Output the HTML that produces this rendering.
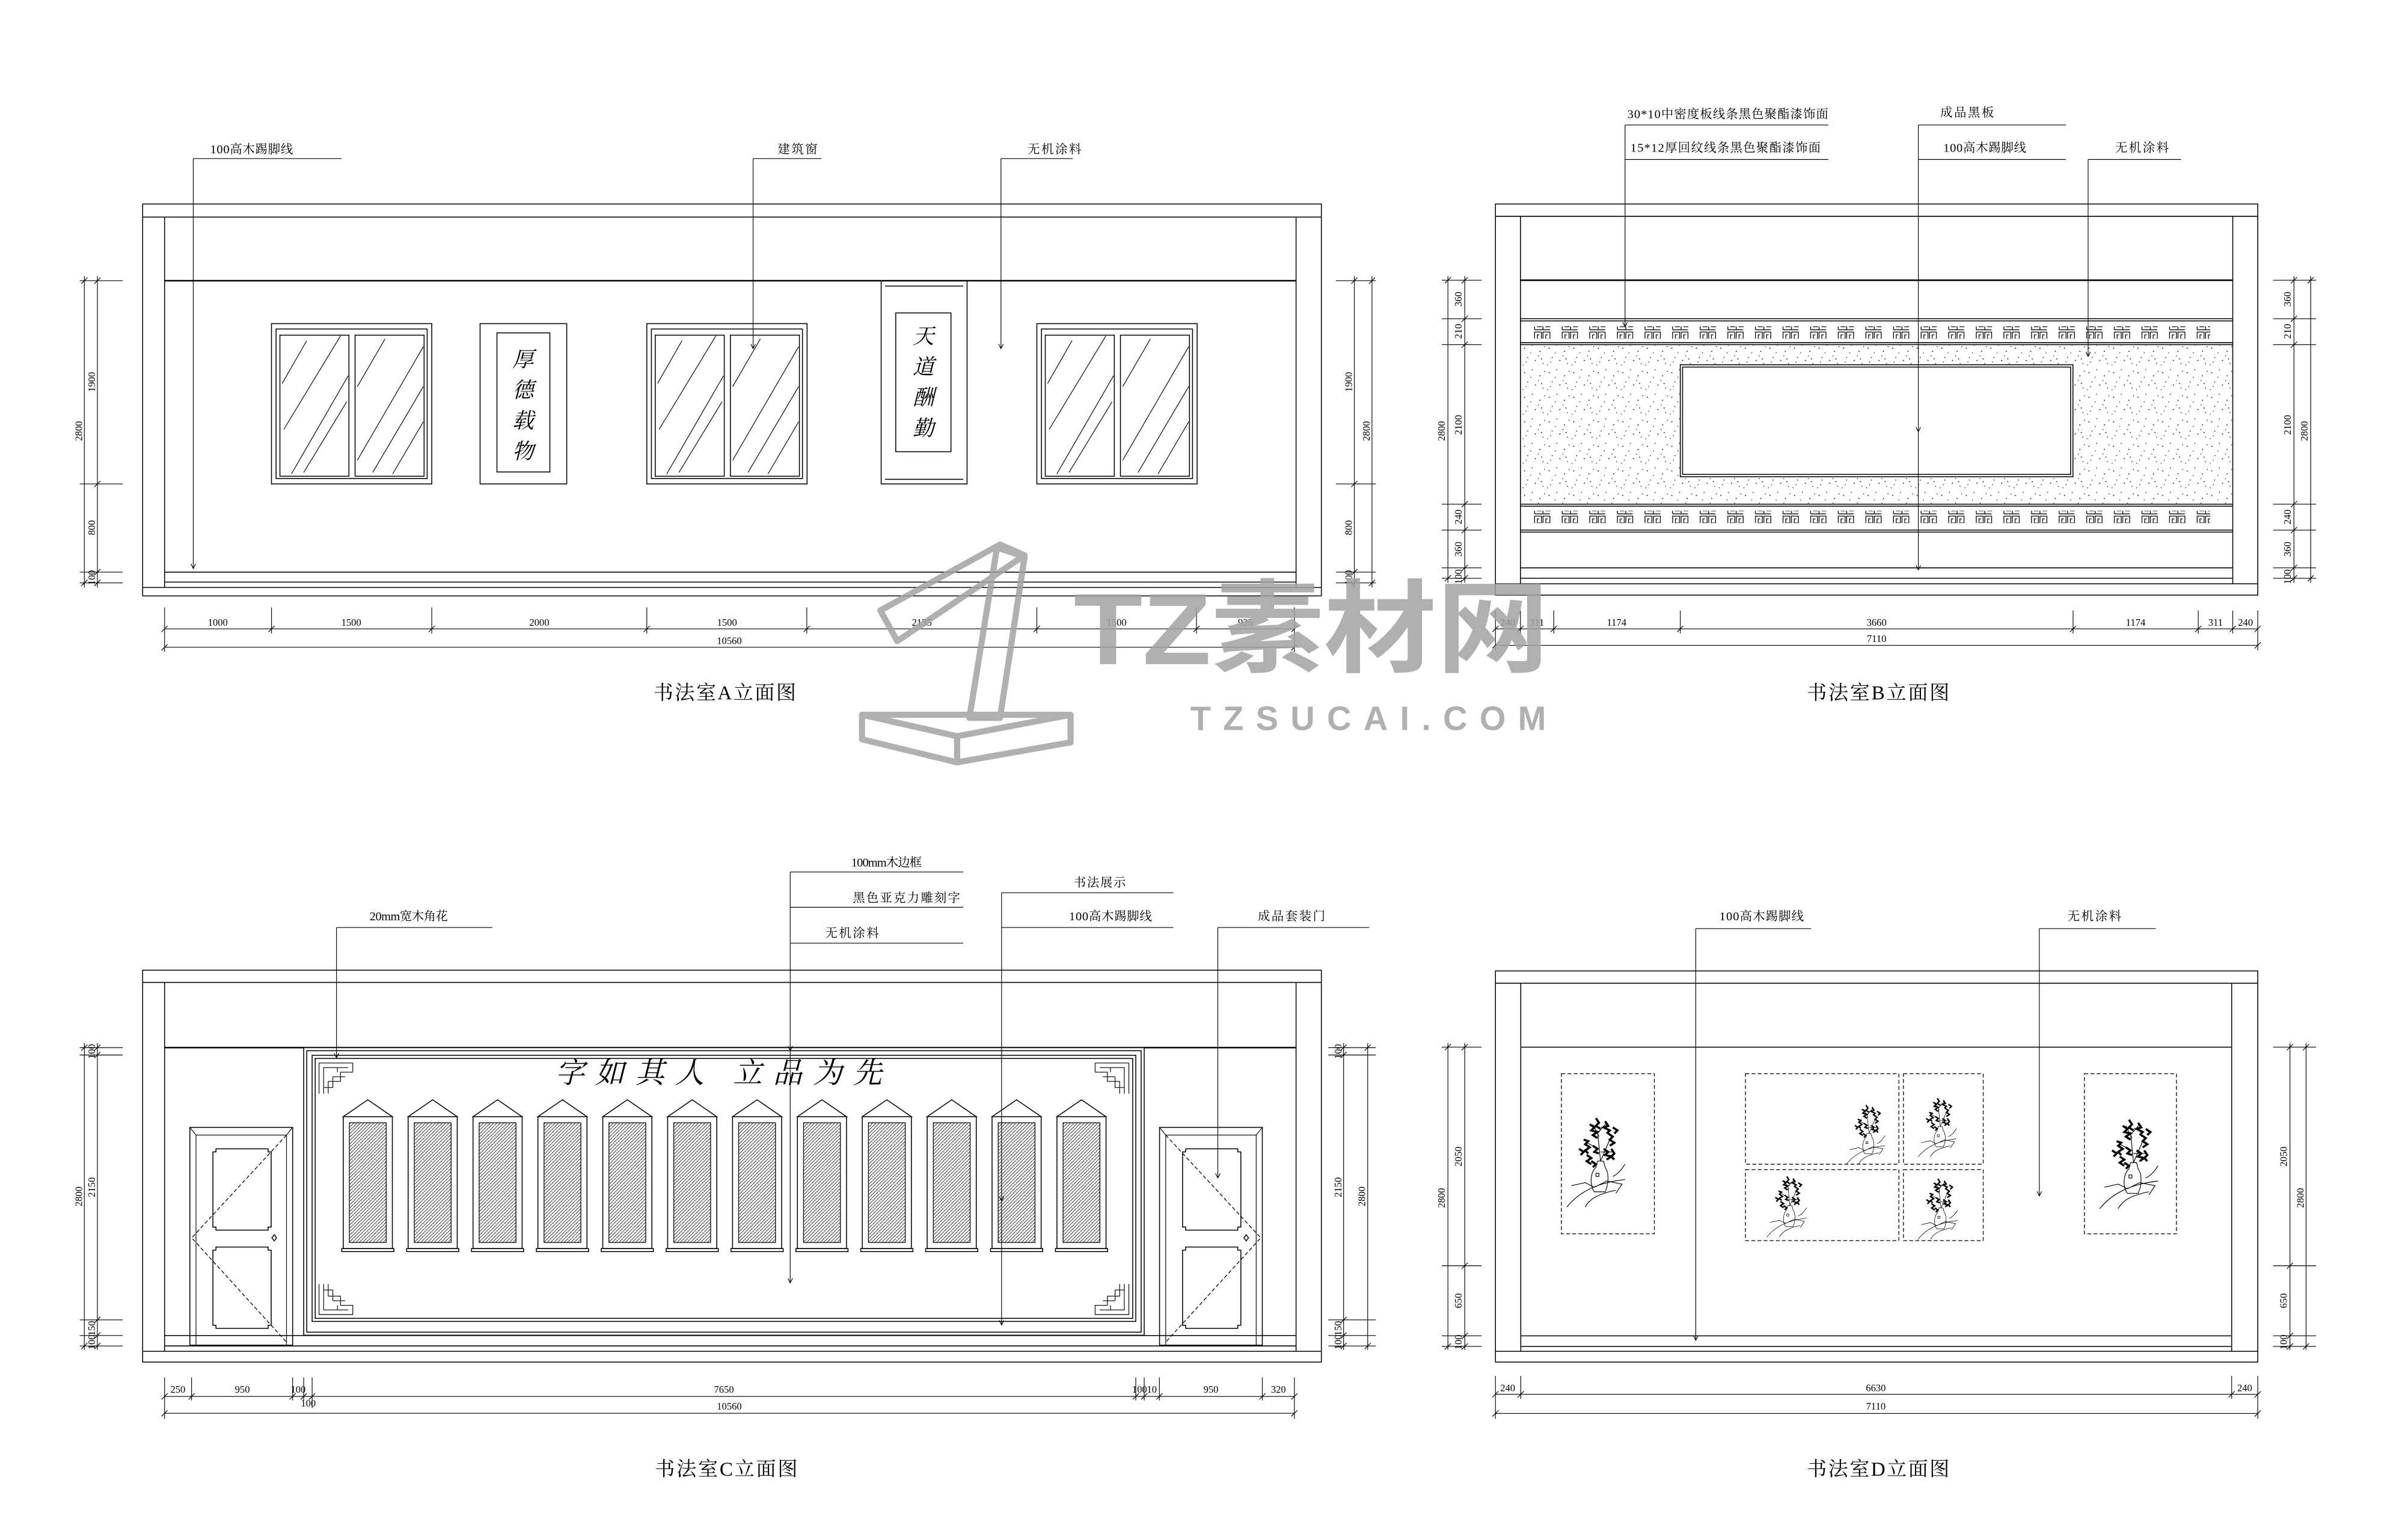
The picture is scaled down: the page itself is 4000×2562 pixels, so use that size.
<!DOCTYPE html>
<html><head><meta charset="utf-8"><style>
html,body{margin:0;padding:0;background:#fff;}
svg{display:block;}
.l{stroke:#000;fill:none;stroke-width:.6}
.k{stroke:#000;fill:none;stroke-width:1}
.d{stroke:#000;fill:none;stroke-width:.45}
.t{font-family:"Liberation Serif","Noto Serif CJK SC",serif;font-size:8px;fill:#000}
.n{font-family:"Liberation Serif","Noto Serif CJK SC",serif;font-size:6.5px;fill:#000;text-anchor:middle}
.ti{font-family:"Liberation Serif","Noto Serif CJK SC",serif;font-size:13px;fill:#000}
.cal{font-family:"Noto Serif CJK SC","Liberation Serif",serif;font-style:italic;fill:#000}
.ds{stroke:#000;fill:none;stroke-width:.5;stroke-dasharray:2.5 1.5}
</style></head><body>
<svg width="4000" height="2562" viewBox="0 0 1568 1004" preserveAspectRatio="none" xmlns="http://www.w3.org/2000/svg">
<defs>
<pattern id="stip" width="16" height="16" patternUnits="userSpaceOnUse">
<g fill="#000"><circle cx="2" cy="3" r=".35"/><circle cx="7" cy="1" r=".3"/><circle cx="12" cy="5" r=".35"/><circle cx="4" cy="9" r=".3"/><circle cx="9" cy="11" r=".35"/><circle cx="14" cy="13" r=".3"/><circle cx="1" cy="14" r=".3"/><circle cx="11" cy="8" r=".3"/><circle cx="6" cy="6" r=".3"/><circle cx="15" cy="2" r=".3"/><circle cx="3" cy="12" r=".3"/><circle cx="13" cy="10" r=".35"/></g>
</pattern>
<pattern id="hat" width="2.2" height="2.2" patternUnits="userSpaceOnUse"><path d="M0,2.2L2.2,0" stroke="#000" stroke-width=".3"/></pattern>
<pattern id="fret" x="1000" y="0" width="18" height="8" patternUnits="userSpaceOnUse">
<path d="M0.5,7V0.5H5V5H2.3V2.3H3.6 M6,7V0.5H10.5V5H7.8V2.3H9.1 M0.5,7H10.5" stroke="#000" stroke-width=".5" fill="none"/>
</pattern>
<symbol id="scr" overflow="visible"><path class="l" d="M0,0L16,-11L32,0Z M1,0H31"/><rect class="l" x="0" y="0" width="32" height="86"/><rect x="4" y="4" width="24" height="78" fill="url(#hat)" stroke="#000" stroke-width=".5"/><path class="l" d="M-1,86H33V88H-1Z"/></symbol>
<symbol id="flw" overflow="visible">
<path class="d" d="M0,58C8,48 20,42 38,40 M12,58C15,52 22,49 32,47 M3,44L12,42L18,45L26,41L36,43L32,49 M30,38C34,36 36,33 38,30"/>
<path class="d" d="M18,48C15,44 15,36 19,32L20,28H24L25,32C28,36 27,44 25,48Z M19,36h2v2h-2z"/>
<path class="d" d="M22,28L20,8 M22,28L28,14 M21,20L13,16 M22,22L31,22 M21,12L17,4 M20,10L26,3"/>
<path stroke="#000" stroke-width="1.4" fill="none" d="M15,4l3,2l-2,2l4,1l-3,2l3,2 M25,2l2,3l-3,1l4,2l-2,2 M27,10l3,2l-2,2l3,2l-3,2 M11,14l3,1l-2,2l3,2l-3,2l2,2 M17,18l3,2l-2,2l3,1 M24,20l3,2l-2,2l4,1l-3,2 M13,24l3,2l-3,2l3,2 M29,20l2,3l-2,2l2,2 M19,0l2,3l-2,2l3,2 M8,20l3,2l-2,2 M30,6l3,2l-2,2 M16,28l3,2l-2,2"/>
</symbol>
<symbol id="cor" overflow="visible"><path class="d" d="M0,20V0H22V6H14V12H6V20 M3,20V3H19 M9,9H17 M9,9V16H3 M12,6V3"/></symbol>
<symbol id="door" overflow="visible">
<rect class="l" x="0" y="0" width="67" height="142"/><path class="d" d="M0,0L4,5H63L67,0 M4,5V142 M63,5V142"/>
<path class="l" d="M15,16h2v-2h34v2h2v49h-2v2h-34v-2h-2z M15,80h2v-2h34v2h2v49h-2v2h-34v-2h-2z"/>
</symbol>
</defs>

<!-- ============ A ============ -->
<g>
<rect class="l" x="93" y="133" width="768.5" height="255.5"/>
<path class="l" d="M93,141.5H861.5 M107.3,141.5V383 M845,141.5V383 M107.3,373H845 M107.3,379.5H845 M93,383H861.5"/>
<path class="k" d="M107.3,183H845"/>
<g id="win"><rect class="l" x="177" y="211" width="104.5" height="104.5"/><rect class="l" x="180" y="214.5" width="98.5" height="97.5"/><rect class="l" x="182.5" y="218.5" width="45" height="92"/><rect class="l" x="231.5" y="218.5" width="45" height="92"/>
<path class="d" d="M184,250L200,222 M185,280L222,219 M190,309L227,245 M198,308L226,262 M233,252L251,221 M233,300L276,226 M243,308L276,252 M256,309L276,275"/></g>
<use href="#win" x="244.7"/>
<use href="#win" x="499"/>
<rect class="l" x="313" y="211" width="56.5" height="104.5"/><rect class="l" x="324" y="217" width="34.5" height="90.7"/>
<text class="cal" font-size="14" x="334" y="239">厚</text><text class="cal" font-size="14" x="334" y="259">德</text><text class="cal" font-size="14" x="334" y="279">载</text><text class="cal" font-size="14" x="334" y="299">物</text>
<rect class="l" x="574.5" y="183" width="56" height="132.5"/><path class="l" d="M577,186.5H628 M577,312.5H628"/><rect class="l" x="584" y="204" width="36" height="90.5"/>
<text class="cal" font-size="14" x="595" y="224">天</text><text class="cal" font-size="14" x="595" y="244">道</text><text class="cal" font-size="14" x="595" y="264">酬</text><text class="cal" font-size="14" x="595" y="284">勤</text>
<path class="d" d="M126,103.4H222.7 M126,103.4V370.7 M124.5,367.7L126,370.7L127.5,367.7 M491,103.4H535.5 M491,103.4V227.3 M489.5,224.3L491,227.3L492.5,224.3 M652.6,103.4H699.3 M652.6,103.4V227.3 M651.1,224.3L652.6,227.3L654.1,224.3"/>
<text class="t" x="137" y="100" textLength="54">100高木踢脚线</text>
<text class="t" x="507" y="100" textLength="26">建筑窗</text>
<text class="t" x="670" y="100" textLength="35">无机涂料</text>
<path class="d" d="M107.3,410H843.9 M107.3,422H843.9 M107.3,396V425 M177,396V413 M281.5,396V413 M421.7,396V413 M526,396V413 M676,396V413 M780.1,396V413 M843.9,396V425
M105.3,412l4,-4 M175,412l4,-4 M279.5,412l4,-4 M419.7,412l4,-4 M524,412l4,-4 M674,412l4,-4 M778.1,412l4,-4 M841.9,412l4,-4 M105.3,424l4,-4 M841.9,424l4,-4"/>
<text class="n" x="142" y="408">1000</text><text class="n" x="229" y="408">1500</text><text class="n" x="351.6" y="408">2000</text><text class="n" x="474" y="408">1500</text><text class="n" x="601" y="408">2135</text><text class="n" x="728" y="408">1500</text><text class="n" x="812" y="408">925</text><text class="n" x="475.5" y="420">10560</text>
<path class="d" d="M52,183H80 M52,315.5H80 M52,373H80 M52,380H80 M63.5,180V383 M55,180V383 M61.5,185l4,-4 M61.5,317.5l4,-4 M61.5,375l4,-4 M61.5,382l4,-4 M53,185l4,-4 M53,382l4,-4"/>
<text class="n" transform="translate(62,249) rotate(-90)">1900</text><text class="n" transform="translate(53.5,281) rotate(-90)">2800</text><text class="n" transform="translate(62,344) rotate(-90)">800</text><text class="n" transform="translate(62,376.5) rotate(-90)">100</text>
<path class="d" d="M871,183H897 M871,315.5H897 M871,373H897 M871,380H897 M883,180V383 M894.5,180V383 M881,185l4,-4 M881,317.5l4,-4 M881,375l4,-4 M881,382l4,-4 M892.5,185l4,-4 M892.5,382l4,-4"/>
<text class="n" transform="translate(881.5,249) rotate(-90)">1900</text><text class="n" transform="translate(893,281) rotate(-90)">2800</text><text class="n" transform="translate(881.5,344) rotate(-90)">800</text><text class="n" transform="translate(881.5,376.5) rotate(-90)">100</text>
<text class="ti" x="426" y="456" textLength="93">书法室A立面图</text>
</g>

<!-- ============ B ============ -->
<g>
<rect class="l" x="975" y="133" width="497" height="255"/>
<path class="l" d="M975,141H1472 M991.3,141V380.6 M1455.7,141V380.6 M991.3,370.2H1455.7 M991.3,377H1455.7 M975,380.6H1472"/>
<path class="k" d="M991.3,182.7H1455.7"/>
<rect x="991.3" y="224.7" width="464.4" height="104" fill="url(#stip)"/>
<path class="l" d="M991.3,207.8H1455.7 M991.3,209.2H1455.7 M991.3,223.4H1455.7 M991.3,224.7H1455.7 M991.3,328.7H1455.7 M991.3,330H1455.7 M991.3,345.6H1455.7 M991.3,346.9H1455.7"/>
<rect x="1000" y="212.8" width="441" height="8" fill="url(#fret)"/>
<rect x="1000" y="333" width="441" height="8" fill="url(#fret)"/>
<rect x="1095.5" y="237.8" width="256" height="73" style="fill:#fff;stroke:#000;stroke-width:.6"/><rect class="l" x="1097" y="239.3" width="253" height="70"/>
<path class="d" d="M1059.5,81.5H1192 M1059.5,104H1192 M1059.5,81.5V213 M1058,210L1059.5,213L1061,210 M1250.7,81.5H1346.9 M1250.7,104H1346.9 M1250.7,81.5V371.6 M1249.2,278.5L1250.7,281.5L1252.2,278.5 M1249.2,368.6L1250.7,371.6L1252.2,368.6 M1361.4,104H1422 M1361.4,104V232.4 M1359.9,229.4L1361.4,232.4L1362.9,229.4"/>
<text class="t" x="1061" y="77" textLength="131">30*10中密度板线条黑色聚酯漆饰面</text>
<text class="t" x="1063" y="99" textLength="124">15*12厚回纹线条黑色聚酯漆饰面</text>
<text class="t" x="1265" y="76" textLength="35">成品黑板</text>
<text class="t" x="1267" y="99" textLength="54">100高木踢脚线</text>
<text class="t" x="1379" y="99" textLength="35">无机涂料</text>
<path class="d" d="M975,410H1472 M975,420.7H1472 M975,398V424 M991.3,398V413 M1013,398V413 M1095.5,398V413 M1351.6,398V413 M1433.2,398V413 M1455.7,398V413 M1472,398V424
M973,412l4,-4 M989.3,412l4,-4 M1011,412l4,-4 M1093.5,412l4,-4 M1349.6,412l4,-4 M1431.2,412l4,-4 M1453.7,412l4,-4 M1470,412l4,-4 M973,422.7l4,-4 M1470,422.7l4,-4"/>
<text class="n" x="983" y="408">240</text><text class="n" x="1002" y="408">311</text><text class="n" x="1054" y="408">1174</text><text class="n" x="1223.5" y="408">3660</text><text class="n" x="1392.4" y="408">1174</text><text class="n" x="1444.5" y="408">311</text><text class="n" x="1464" y="408">240</text><text class="n" x="1223.5" y="418.5">7110</text>
<path class="d" d="M940,182.7H966 M940,207.8H966 M940,224.7H966 M940,328.7H966 M940,345.6H966 M940,370.2H966 M940,377H966 M955,180V380 M944,180V380 M953,184.7l4,-4 M953,209.8l4,-4 M953,226.7l4,-4 M953,330.7l4,-4 M953,347.6l4,-4 M953,372.2l4,-4 M953,379l4,-4 M942,184.7l4,-4 M942,379l4,-4"/>
<text class="n" transform="translate(953,195) rotate(-90)">360</text><text class="n" transform="translate(953,216) rotate(-90)">210</text><text class="n" transform="translate(953,277) rotate(-90)">2100</text><text class="n" transform="translate(953,337) rotate(-90)">240</text><text class="n" transform="translate(953,358) rotate(-90)">360</text><text class="n" transform="translate(953,376) rotate(-90)">100</text><text class="n" transform="translate(942,281) rotate(-90)">2800</text>
<path class="d" d="M1482,182.7H1510 M1482,207.8H1510 M1482,224.7H1510 M1482,328.7H1510 M1482,345.6H1510 M1482,370.2H1510 M1482,377H1510 M1495.6,180V380 M1506.5,180V380 M1493.6,184.7l4,-4 M1493.6,209.8l4,-4 M1493.6,226.7l4,-4 M1493.6,330.7l4,-4 M1493.6,347.6l4,-4 M1493.6,372.2l4,-4 M1493.6,379l4,-4 M1504.5,184.7l4,-4 M1504.5,379l4,-4"/>
<text class="n" transform="translate(1493.5,195) rotate(-90)">360</text><text class="n" transform="translate(1493.5,216) rotate(-90)">210</text><text class="n" transform="translate(1493.5,277) rotate(-90)">2100</text><text class="n" transform="translate(1493.5,337) rotate(-90)">240</text><text class="n" transform="translate(1493.5,358) rotate(-90)">360</text><text class="n" transform="translate(1493.5,376) rotate(-90)">100</text><text class="n" transform="translate(1504.5,281) rotate(-90)">2800</text>
<text class="ti" x="1178" y="456" textLength="93">书法室B立面图</text>
</g>

<!-- ============ C ============ -->
<g>
<rect class="l" x="93" y="632.5" width="768.5" height="255.5"/>
<path class="l" d="M93,640.5H861.5 M107.3,640.5V881 M845,640.5V881 M107.3,870.7H845 M107.3,877.5H845 M93,881H861.5"/>
<path class="k" d="M107.3,683H845"/>
<rect x="198" y="683" width="548" height="187.5" style="fill:#fff;stroke:#000;stroke-width:.6"/>
<rect class="l" x="200" y="685" width="544" height="183.5"/>
<rect class="l" x="203.5" y="688" width="537" height="173.5"/>
<rect class="l" x="205.5" y="690" width="533" height="169.5"/>
<use href="#cor" x="208" y="693"/>
<use href="#cor" transform="translate(736,693) scale(-1,1)"/>
<use href="#cor" transform="translate(208,857) scale(1,-1)"/>
<use href="#cor" transform="translate(736,857) scale(-1,-1)"/>
<text class="cal" font-size="19" x="362" y="706" textLength="213">字如其人 立品为先</text>
<use href="#scr" x="223.8" y="728"/><use href="#scr" x="266.1" y="728"/><use href="#scr" x="308.4" y="728"/><use href="#scr" x="350.7" y="728"/><use href="#scr" x="393" y="728"/><use href="#scr" x="435.3" y="728"/><use href="#scr" x="477.6" y="728"/><use href="#scr" x="519.9" y="728"/><use href="#scr" x="562.2" y="728"/><use href="#scr" x="604.5" y="728"/><use href="#scr" x="646.8" y="728"/><use href="#scr" x="689.1" y="728"/>
<use href="#door" x="123.8" y="735"/>
<path class="ds" d="M186.8,740L125,807L186.8,875"/><path class="l" d="M178.8,805l1.5,2l-1.5,2l-1.5,-2z"/>
<use href="#door" x="756" y="735"/>
<path class="ds" d="M760,740L822,807L760,875"/><path class="l" d="M812.5,805l1.5,2l-1.5,2l-1.5,-2z"/>
<path class="d" d="M219.4,604.7H321 M219.4,604.7V689.7 M217.9,686.7L219.4,689.7L220.9,686.7
M515.2,568.5H628 M515.2,591.5H628 M515.2,614.9H628 M515.2,568.5V836.4 M513.7,682L515.2,685L516.7,682 M513.7,833.4L515.2,836.4L516.7,833.4
M653,582H765 M653,604.7H765 M653,582V863.8 M651.5,780L653,783L654.5,780 M651.5,860.8L653,863.8L654.5,860.8
M794,604.7H892.7 M794,604.7V768 M792.5,765L794,768L795.5,765"/>
<text class="t" x="241" y="600" textLength="51">20mm宽木角花</text>
<text class="t" x="555" y="565" textLength="46">100mm木边框</text>
<text class="t" x="556" y="588" textLength="70">黑色亚克力雕刻字</text>
<text class="t" x="538" y="611" textLength="35">无机涂料</text>
<text class="t" x="700" y="578" textLength="34">书法展示</text>
<text class="t" x="697" y="600" textLength="54">100高木踢脚线</text>
<text class="t" x="820" y="600" textLength="44">成品套装门</text>
<path class="d" d="M107.3,910.4H843.9 M107.3,921.4H843.9 M107.3,898V925 M124.9,898V913 M190.8,898V913 M198,898V913 M203.5,898V918 M740.5,898V913 M746,898V913 M755.9,898V913 M823,898V913 M843.9,898V925
M105.3,912.4l4,-4 M122.9,912.4l4,-4 M188.8,912.4l4,-4 M196,912.4l4,-4 M201.5,912.4l4,-4 M738.5,912.4l4,-4 M744,912.4l4,-4 M753.9,912.4l4,-4 M821,912.4l4,-4 M841.9,912.4l4,-4 M105.3,923.4l4,-4 M841.9,923.4l4,-4"/>
<text class="n" x="116" y="908">250</text><text class="n" x="158" y="908">950</text><text class="n" x="194.4" y="908" font-size="5">100</text><text class="n" x="472" y="908">7650</text><text class="n" x="743" y="908" font-size="5">100</text><text class="n" x="751" y="908" font-size="5">10</text><text class="n" x="789.5" y="908">950</text><text class="n" x="833.5" y="908">320</text><text class="n" x="201" y="917" font-size="5">100</text><text class="n" x="475.5" y="919">10560</text>
<path class="d" d="M52,683H80 M52,687.8H80 M52,860.5H80 M52,870.7H80 M52,877.5H80 M63.5,680V880 M55,680V880 M61.5,685l4,-4 M61.5,689.8l4,-4 M61.5,862.5l4,-4 M61.5,872.7l4,-4 M61.5,879.5l4,-4 M53,685l4,-4 M53,879.5l4,-4"/>
<text class="n" transform="translate(62,685.5) rotate(-90)" font-size="5">100</text><text class="n" transform="translate(62,774) rotate(-90)">2150</text><text class="n" transform="translate(62,866) rotate(-90)">150</text><text class="n" transform="translate(62,875) rotate(-90)" font-size="5">100</text><text class="n" transform="translate(53.5,780) rotate(-90)">2800</text>
<path class="d" d="M866,683H897 M866,687.8H897 M866,860.5H897 M866,870.7H897 M866,877.5H897 M876,680V880 M891.7,680V880 M874,685l4,-4 M874,689.8l4,-4 M874,862.5l4,-4 M874,872.7l4,-4 M874,879.5l4,-4 M889.7,685l4,-4 M889.7,879.5l4,-4"/>
<text class="n" transform="translate(874.5,685.5) rotate(-90)" font-size="5">100</text><text class="n" transform="translate(874.5,774) rotate(-90)">2150</text><text class="n" transform="translate(874.5,866) rotate(-90)">150</text><text class="n" transform="translate(874.5,875) rotate(-90)" font-size="5">100</text><text class="n" transform="translate(890,780) rotate(-90)">2800</text>
<text class="ti" x="427" y="962" textLength="93">书法室C立面图</text>
</g>

<!-- ============ D ============ -->
<g>
<rect class="l" x="975" y="633" width="497" height="255"/>
<path class="l" d="M975,641H1472 M991.5,641V881 M1455,641V881 M991.5,870.9H1455 M991.5,877.8H1455 M975,881H1472"/>
<path class="l" d="M991.5,682.7H1455"/>
<rect class="ds" x="1018" y="700" width="60.6" height="104.4"/>
<rect class="ds" x="1138" y="700" width="100" height="59"/>
<rect class="ds" x="1241" y="700" width="52" height="59"/>
<rect class="ds" x="1138" y="762.5" width="100" height="46.3"/>
<rect class="ds" x="1241" y="762.5" width="52" height="46.3"/>
<rect class="ds" x="1359" y="700" width="60" height="104.4"/>
<use href="#flw" x="1021.5" y="729"/>
<use href="#flw" transform="translate(1204,720.5) scale(.66)"/>
<use href="#flw" transform="translate(1250.5,716) scale(.66)"/>
<use href="#flw" transform="translate(1152,767) scale(.68)"/>
<use href="#flw" transform="translate(1250.5,768.5) scale(.68)"/>
<use href="#flw" x="1369" y="730"/>
<path class="d" d="M1105.6,605.4H1180.8 M1105.6,605.4V873.8 M1104.1,870.8L1105.6,873.8L1107.1,870.8 M1329.6,605.4H1405.5 M1329.6,605.4V779.7 M1328.1,776.7L1329.6,779.7L1331.1,776.7"/>
<text class="t" x="1121" y="600" textLength="55">100高木踢脚线</text>
<text class="t" x="1348" y="600" textLength="35">无机涂料</text>
<path class="d" d="M975,909H1472 M975,921.5H1472 M975,897V925 M991.5,897V912 M1455,897V912 M1472,897V925 M973,911l4,-4 M989.5,911l4,-4 M1453,911l4,-4 M1470,911l4,-4 M973,923.5l4,-4 M1470,923.5l4,-4"/>
<text class="n" x="983" y="907">240</text><text class="n" x="1223" y="907">6630</text><text class="n" x="1463.5" y="907">240</text><text class="n" x="1223" y="919">7110</text>
<path class="d" d="M940,682.7H966 M940,825.2H966 M940,870.9H966 M940,877.8H966 M955,680V880 M944,680V880 M953,684.7l4,-4 M953,827.2l4,-4 M953,872.9l4,-4 M953,879.8l4,-4 M942,684.7l4,-4 M942,879.8l4,-4"/>
<text class="n" transform="translate(953,754) rotate(-90)">2050</text><text class="n" transform="translate(953,848) rotate(-90)">650</text><text class="n" transform="translate(953,875) rotate(-90)" font-size="5.5">100</text><text class="n" transform="translate(942,781) rotate(-90)">2800</text>
<path class="d" d="M1482,682.7H1510 M1482,825.2H1510 M1482,870.9H1510 M1482,877.8H1510 M1493,680V880 M1503.5,680V880 M1491,684.7l4,-4 M1491,827.2l4,-4 M1491,872.9l4,-4 M1491,879.8l4,-4 M1501.5,684.7l4,-4 M1501.5,879.8l4,-4"/>
<text class="n" transform="translate(1491,754) rotate(-90)">2050</text><text class="n" transform="translate(1491,848) rotate(-90)">650</text><text class="n" transform="translate(1491,875) rotate(-90)" font-size="5.5">100</text><text class="n" transform="translate(1502,781) rotate(-90)">2800</text>
<text class="ti" x="1178" y="962" textLength="93">书法室D立面图</text>
</g>

<!-- ============ watermark ============ -->
<g opacity=".85">
<g stroke="#a3a3a3" stroke-width="4" fill="none" stroke-linejoin="round">
<path d="M574,398L652,355L668,362L585,418Z"/>
<path d="M650,357L668,363L652,468L632,468Z"/>
<path d="M562,466H698V484L624,497L562,482Z M562,466L624,480L698,466 M624,480V497"/>
</g>
<text x="700" y="433" font-family="Liberation Sans, Noto Sans CJK SC, sans-serif" font-weight="bold" font-size="66" fill="#a3a3a3" textLength="310" lengthAdjust="spacingAndGlyphs">TZ素材网</text>
<text x="776" y="476" font-family="Liberation Sans, sans-serif" font-weight="bold" font-size="22" fill="#a3a3a3" textLength="232" lengthAdjust="spacing">TZSUCAI.COM</text>
</g>
</svg>
</body></html>
